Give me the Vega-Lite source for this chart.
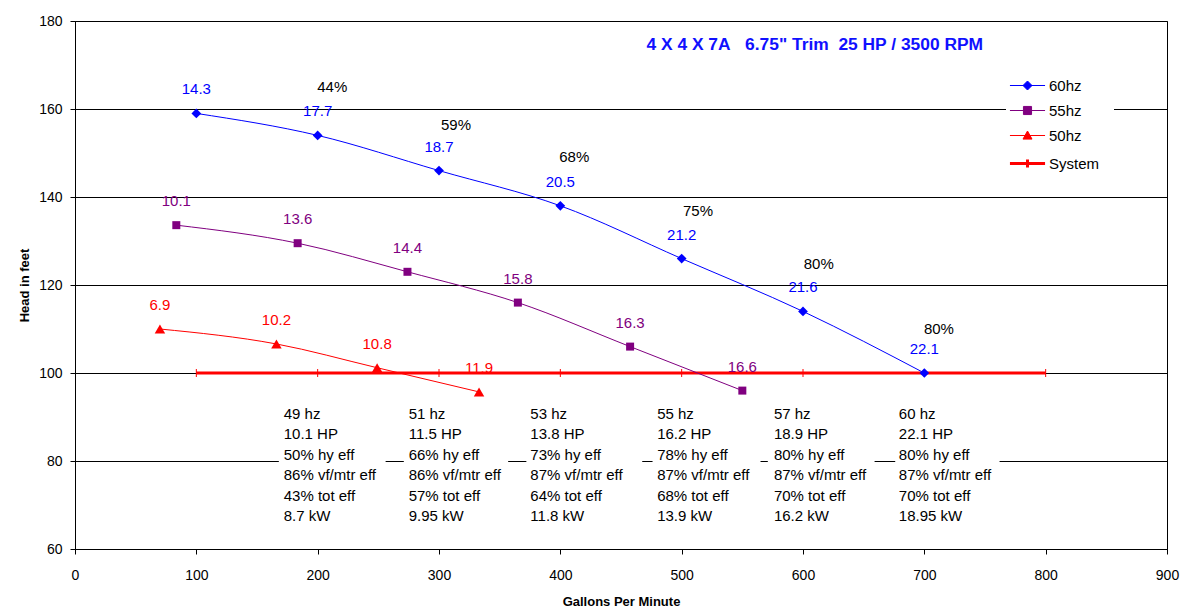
{
  "$schema": "https://vega.github.io/schema/vega-lite/v6.json",
  "width": 1092,
  "height": 528,
  "autosize": {"type": "none"},
  "padding": {"left": 75, "top": 21, "right": 20, "bottom": 60},
  "background": "white",
  "config": {
    "font": "Liberation Sans",
    "view": {"stroke": "black", "strokeWidth": 1},
    "axis": {
      "gridColor": "black", "gridOpacity": 1, "gridWidth": 1,
      "domainColor": "black", "tickColor": "black", "tickSize": 5,
      "labelColor": "black", "labelFont": "Liberation Sans", "labelFontSize": 14,
      "titleColor": "black", "titleFont": "Liberation Sans", "titleFontSize": 13, "titleFontWeight": "bold"
    },
    "legend": {"labelFont": "Liberation Sans"}
  },
  "datasets": {
    "pump": [
      {"series": "60hz", "gpm": 100, "head": 159, "label": "14.3"},
      {"series": "60hz", "gpm": 200, "head": 154, "label": "17.7"},
      {"series": "60hz", "gpm": 300, "head": 146, "label": "18.7"},
      {"series": "60hz", "gpm": 400, "head": 138, "label": "20.5"},
      {"series": "60hz", "gpm": 500, "head": 126, "label": "21.2"},
      {"series": "60hz", "gpm": 600, "head": 114, "label": "21.6"},
      {"series": "60hz", "gpm": 700, "head": 100, "label": "22.1"},
      {"series": "55hz", "gpm": 83.5, "head": 133.6, "label": "10.1"},
      {"series": "55hz", "gpm": 183.5, "head": 129.5, "label": "13.6"},
      {"series": "55hz", "gpm": 274, "head": 123, "label": "14.4"},
      {"series": "55hz", "gpm": 365, "head": 116, "label": "15.8"},
      {"series": "55hz", "gpm": 457.5, "head": 106, "label": "16.3"},
      {"series": "55hz", "gpm": 550, "head": 96, "label": "16.6"},
      {"series": "50hz", "gpm": 70, "head": 110, "label": "6.9"},
      {"series": "50hz", "gpm": 166, "head": 106.6, "label": "10.2"},
      {"series": "50hz", "gpm": 249, "head": 101.2, "label": "10.8"},
      {"series": "50hz", "gpm": 333, "head": 95.7, "label": "11.9"},
      {"series": "System", "gpm": 100, "head": 100, "label": ""},
      {"series": "System", "gpm": 200, "head": 100, "label": ""},
      {"series": "System", "gpm": 300, "head": 100, "label": ""},
      {"series": "System", "gpm": 400, "head": 100, "label": ""},
      {"series": "System", "gpm": 500, "head": 100, "label": ""},
      {"series": "System", "gpm": 600, "head": 100, "label": ""},
      {"series": "System", "gpm": 700, "head": 100, "label": ""},
      {"series": "System", "gpm": 800, "head": 100, "label": ""}
    ],
    "eff": [
      {"gpm": 212, "head": 165, "label": "44%"},
      {"gpm": 314, "head": 156.4, "label": "59%"},
      {"gpm": 411.5, "head": 149.1, "label": "68%"},
      {"gpm": 513.5, "head": 136.8, "label": "75%"},
      {"gpm": 613, "head": 124.8, "label": "80%"},
      {"gpm": 712, "head": 110, "label": "80%"}
    ],
    "notes": [
      {"gpm": 172, "head": 92.3, "bottom": 64, "x0": 168, "x1": 256, "lines": ["49 hz", "10.1 HP", "50% hy eff", "86% vf/mtr eff", "43% tot eff", "8.7 kW"]},
      {"gpm": 275, "head": 92.3, "bottom": 64, "x0": 271, "x1": 357, "lines": ["51 hz", "11.5 HP", "66% hy eff", "86% vf/mtr eff", "57% tot eff", "9.95 kW"]},
      {"gpm": 375.3, "head": 92.3, "bottom": 64, "x0": 372, "x1": 467.5, "lines": ["53 hz", "13.8 HP", "73% hy eff", "87% vf/mtr eff", "64% tot eff", "11.8 kW"]},
      {"gpm": 479.8, "head": 92.3, "bottom": 64, "x0": 476, "x1": 565, "lines": ["55 hz", "16.2 HP", "78% hy eff", "87% vf/mtr eff", "68% tot eff", "13.9 kW"]},
      {"gpm": 576, "head": 92.3, "bottom": 64, "x0": 571, "x1": 659, "lines": ["57 hz", "18.9 HP", "80% hy eff", "87% vf/mtr eff", "70% tot eff", "16.2 kW"]},
      {"gpm": 679, "head": 92.3, "bottom": 64, "x0": 676, "x1": 762, "lines": ["60 hz", "22.1 HP", "80% hy eff", "87% vf/mtr eff", "70% tot eff", "18.95 kW"]}
    ],
    "heading": [
      {"gpm": 471, "head": 174.5, "label": "4 X 4 X 7A\u00a0\u00a0 6.75\" Trim\u00a0 25 HP / 3500 RPM"}
    ]
  },
  "encoding": {
    "x": {"field": "gpm", "type": "quantitative", "scale": {"domain": [0, 900], "nice": false},
      "axis": {"title": "Gallons Per Minute", "values": [0, 100, 200, 300, 400, 500, 600, 700, 800, 900], "grid": false, "labelPadding": 14, "titlePadding": 13, "labelFlush": false}},
    "y": {"field": "head", "type": "quantitative", "scale": {"domain": [60, 180], "nice": false, "zero": false},
      "axis": {"title": "Head in feet", "values": [60, 80, 100, 120, 140, 160, 180], "grid": true, "labelPadding": 8, "titlePadding": 7, "labelFlush": false}}
  },
  "layer": [
    {
      "data": {"name": "notes"},
      "mark": {"type": "rect", "fill": "white"},
      "encoding": {
        "x": {"field": "x0", "type": "quantitative"},
        "x2": {"field": "x1"},
        "y2": {"field": "bottom"}
      }
    },
    {
      "data": {"name": "pump"},
      "transform": [{"filter": "datum.series === 'System'"}],
      "mark": {"type": "line", "strokeWidth": 3, "color": "#FF0000"},
      "encoding": {}
    },
    {
      "data": {"name": "pump"},
      "transform": [{"filter": "false"}],
      "mark": {"type": "point", "filled": true, "opacity": 1},
      "encoding": {
        "color": {"field": "series", "type": "nominal",
          "scale": {"domain": ["60hz", "55hz", "50hz", "System"], "range": ["#0000FF", "#800080", "#FF0000", "#FF0000"]},
          "legend": {
            "title": null, "orient": "none", "legendX": 931, "legendY": 43,
            "fillColor": "white", "padding": 14, "symbolSize": 81, "labelOffset": 14,
            "labelFontSize": 15, "labelColor": "black", "rowPadding": 9
          }},
        "stroke": {"field": "series", "type": "nominal",
          "scale": {"domain": ["60hz", "55hz", "50hz", "System"], "range": ["#0000FF", "#800080", "#FF0000", "#FF0000"]}},
        "shape": {"field": "series", "type": "nominal",
          "scale": {"domain": ["60hz", "55hz", "50hz", "System"], "range": [
            "M-3.9,0L3.9,0M0,-1L1,0L0,1L-1,0Z",
            "M-3.9,0L3.9,0M-0.9,-0.9L0.9,-0.9L0.9,0.9L-0.9,0.9Z",
            "M-3.9,0L3.9,0M0,-1L1,0.8L-1,0.8Z",
            "M-3.9,0L3.9,0M0,-0.9L0,0.9"]}},
        "strokeWidth": {"field": "series", "type": "nominal",
          "scale": {"type": "ordinal", "domain": ["60hz", "55hz", "50hz", "System"], "range": [1, 1, 1, 3]}}
      }
    },
    {
      "data": {"name": "pump"},
      "transform": [{"filter": "datum.series !== 'System'"}],
      "mark": {"type": "line", "strokeWidth": 1, "interpolate": "monotone"},
      "encoding": {
        "color": {"field": "series", "type": "nominal", "legend": null}
      }
    },
    {
      "data": {"name": "pump"},
      "transform": [{"filter": "datum.series === 'System'"}],
      "mark": {"type": "point", "filled": false, "shape": "M0,-1L0,1", "size": 64, "strokeWidth": 1, "color": "#FF0000", "opacity": 1},
      "encoding": {}
    },
    {
      "data": {"name": "pump"},
      "transform": [{"filter": "datum.series === '60hz'"}],
      "mark": {"type": "point", "filled": true, "shape": "diamond", "size": 95, "color": "#0000FF", "opacity": 1},
      "encoding": {}
    },
    {
      "data": {"name": "pump"},
      "transform": [{"filter": "datum.series === '55hz'"}],
      "mark": {"type": "point", "filled": true, "shape": "square", "size": 64, "color": "#800080", "opacity": 1},
      "encoding": {}
    },
    {
      "data": {"name": "pump"},
      "transform": [{"filter": "datum.series === '50hz'"}],
      "mark": {"type": "point", "filled": true, "shape": "triangle-up", "size": 110, "color": "#FF0000", "opacity": 1},
      "encoding": {}
    },
    {
      "data": {"name": "pump"},
      "transform": [{"filter": "datum.label !== ''"}],
      "mark": {"type": "text", "dy": -24, "fontSize": 15, "align": "center", "baseline": "middle"},
      "encoding": {
        "text": {"field": "label", "type": "nominal"},
        "color": {"field": "series", "type": "nominal", "legend": null}
      }
    },
    {
      "data": {"name": "eff"},
      "mark": {"type": "text", "fontSize": 15, "align": "center", "baseline": "middle", "color": "black"},
      "encoding": {"text": {"field": "label", "type": "nominal"}}
    },
    {
      "data": {"name": "notes"},
      "mark": {"type": "text", "fontSize": 15, "align": "left", "baseline": "top", "lineHeight": 20.5, "color": "black"},
      "encoding": {
        "text": {"field": "lines", "type": "nominal"}
      }
    },
    {
      "data": {"name": "heading"},
      "mark": {"type": "text", "fontSize": 17.4, "fontWeight": "bold", "align": "left", "baseline": "middle", "color": "#1010FF"},
      "encoding": {"text": {"field": "label", "type": "nominal"}}
    }
  ]
}
